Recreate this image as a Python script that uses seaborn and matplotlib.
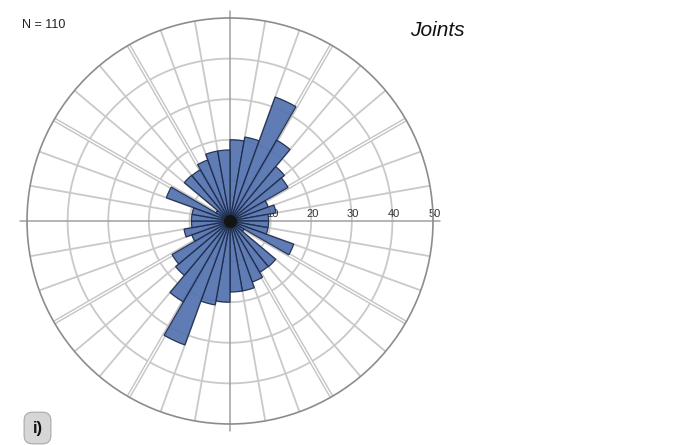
import numpy as np
import pandas as pd
import matplotlib
matplotlib.use("Agg")
import matplotlib.pyplot as plt
import seaborn as sns

# Joint strike frequencies per 10° sector from 0° to 180°; the rose is
# bidirectional, so each sector is repeated on the opposite side (180°–360°).
sector_start_deg = list(range(0, 180, 10))
frequency = [20, 21, 32.5, 23, 17.5, 16.5, 10, 11.5, 9.5,
             9.5, 9.5, 16.7, 4, 14.7, 14.6, 16, 17.5, 17.5]
ring_values = [10, 20, 30, 40, 50]
ring_labels = ["10", "20", "30", "40", "50"]
sample_label = "N = 110"
title_text = "Joints"
panel_label = "i)"

sns.set_theme(style="white")
plt.rcParams["font.family"] = ["Liberation Sans", "DejaVu Sans"]

rose = pd.DataFrame({
    "start": sector_start_deg + [s + 180 for s in sector_start_deg],
    "value": frequency + frequency,
})
rose["theta"] = np.deg2rad(rose["start"] + 5)

bar_color = sns.color_palette(["#5472b0"])[0]

fig = plt.figure(figsize=(7, 4.45), dpi=100)
ax = fig.add_axes([0.0386, 0.0472, 0.58, 0.9124], projection="polar")
ax.set_theta_zero_location("N")
ax.set_theta_direction(-1)
ax.set_ylim(0, ring_values[-1])
ax.grid(False)
ax.set_xticks([])
ax.set_yticks([])
ax.set_facecolor("white")
ax.spines["polar"].set_color("#8c8c8c")
ax.spines["polar"].set_linewidth(1.2)

# concentric rings
theta_full = np.linspace(0, 2 * np.pi, 721)
for r in ring_values[:-1]:
    ax.plot(theta_full, np.full_like(theta_full, r), color="#c9c9c9",
            lw=1.3, zorder=1)

# radial spokes every 10°, main axes extended past the rim
for deg in range(0, 360, 10):
    t = np.deg2rad(deg)
    if deg % 90 == 0:
        ax.plot([t, t], [0, ring_values[-1] * 1.035], color="#a0a0a0",
                lw=1.1, zorder=1, clip_on=False)
    elif deg % 30 == 0:
        ax.plot([t, t], [0, ring_values[-1]], color="#c4c4c4", lw=3.0, zorder=1)
        ax.plot([t, t], [0, ring_values[-1]], color="white", lw=1.0, zorder=1.1)
    else:
        ax.plot([t, t], [0, ring_values[-1]], color="#c9c9c9", lw=1.3, zorder=1)

# ring value labels along the east axis
for r, lab in zip(ring_values, ring_labels):
    ax.annotate(lab, xy=(np.pi / 2, r), xytext=(1, 1.5),
                textcoords="offset points", ha="center", va="bottom",
                fontsize=8, color="#333333", zorder=2)

ax.bar(rose["theta"], rose["value"], width=np.deg2rad(10), bottom=0,
       color=bar_color, edgecolor="#1e2c4a", linewidth=0.9, alpha=0.93,
       zorder=3)
ax.scatter([0], [0], s=70, color="#141414", zorder=4)

fig.text(22 / 700, 1 - 25 / 445, sample_label, fontsize=9, va="center",
         ha="left", color="#222222")
fig.text(437 / 700, 1 - 31 / 445, title_text, fontsize=15, style="italic",
         va="center", ha="center", color="#111111")
fig.text(37.5 / 700, 1 - 428 / 445, panel_label, fontsize=12, fontweight="bold",
         va="center", ha="center", color="#111111",
         bbox=dict(boxstyle="round,pad=0.5", fc="#d6d6d6", ec="#a8a8a8", lw=0.8))

fig.savefig("out.png", dpi=100, facecolor="white")
